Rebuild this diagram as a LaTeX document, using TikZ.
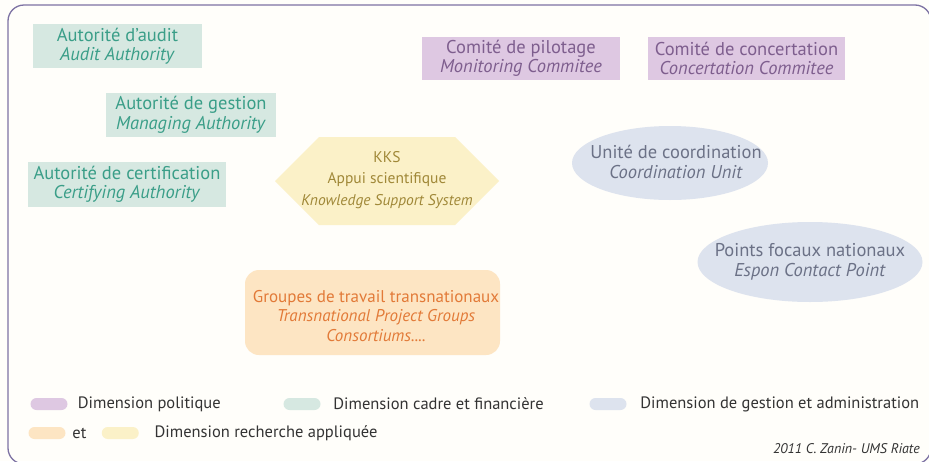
\documentclass[tikz,border=0pt]{standalone}
\usepackage{fontspec}
\setmainfont{PT Sans}
\usetikzlibrary{shapes.geometric,positioning}

\definecolor{cadretext}{HTML}{3A9E88}
\definecolor{cadrefill}{HTML}{D6E8E1}
\definecolor{politext}{HTML}{7E5E8E}
\definecolor{polifill}{HTML}{DEC8E2}
\definecolor{gesttext}{HTML}{6B7186}
\definecolor{gestfill}{HTML}{DDE3EE}
\definecolor{kkstext}{HTML}{A08838}
\definecolor{kksfill}{HTML}{FBF1C8}
\definecolor{grptext}{HTML}{E27A38}
\definecolor{grpfill}{HTML}{FDE5C3}
\definecolor{framecol}{HTML}{7D72A3}
\definecolor{bgcol}{HTML}{FFFEFA}

\tikzset{
  box/.style={inner sep=0, align=center, font=\fontsize{18.5}{19.5}\selectfont},
  cadre/.style={box, fill=cadrefill, text=cadretext},
  poli/.style={box, fill=polifill, text=politext},
  gestshape/.style={ellipse, fill=gestfill, inner sep=0},
  gest/.style={box, text=gesttext},
  pill/.style={rounded corners=6, minimum width=37, minimum height=12, inner sep=0},
  legtext/.style={anchor=west, inner sep=0, text=black!80, font=\fontsize{16.5}{18}\selectfont},
}

\begin{document}
\begin{tikzpicture}[x=1pt, y=-1pt]
		\useasboundingbox (0,0) rectangle (929,461);
		\clip (0,0) rectangle (929,461);
		\fill[bgcol] (0,0) rectangle (929,461);
		\draw[framecol, line width=1.3, rounded corners=16] (8,5) rectangle (931,464);

		% cadre et financiere
		\node[cadre, minimum width=169, minimum height=44] (audit) at (117.5,46)
			{Autorité d’audit\\\textit{Audit Authority}};
		\node[cadre, minimum width=170, minimum height=44] (gestion) at (191,115)
			{Autorité de gestion\\\textit{Managing Authority}};
		\node[cadre, minimum width=198, minimum height=45] (certif) at (127,184.5)
			{Autorité de certification\\\textit{Certifying Authority}};

		% politique
		\node[poli, minimum width=198, minimum height=43] (pilotage) at (521,58.5)
			{Comité de pilotage\\\textit{Monitoring Commitee}};
		\node[poli, minimum width=197, minimum height=43] (concert) at (746.5,58.5)
			{Comité de concertation\\\textit{Concertation Commitee}};

		% recherche
		\fill[kksfill] (275,181) -- (319,137) -- (455,137) -- (499,181) -- (455,225) -- (319,225) -- cycle;
		\node[box, text=kkstext, font=\fontsize{15.5}{21.5}\selectfont] (kks) at (387,180)
			{KKS\\Appui scientifique\\\textit{Knowledge Support System}};
		\node[box, fill=grpfill, text=grptext, rounded corners=14, minimum width=255, minimum height=85] (groupes) at (372.5,312.5) {};
		\node[box, text=grptext, font=\fontsize{17}{19.5}\selectfont] (groupestxt) at (376,316)
			{Groupes de travail transnationaux\\\textit{Transnational Project Groups}\\\textit{Consortiums....}};

		% gestion et administration
		\node[gestshape, minimum width=196, minimum height=74] (coord) at (670,163) {};
		\node[gest] (coordtxt) at (676,162) {Unité de coordination\\\textit{Coordination Unit}};
		\node[gestshape, minimum width=225, minimum height=80] (points) at (810,262) {};
		\node[gest] (pointstxt) at (810,262) {Points focaux nationaux\\\textit{Espon Contact Point}};

		% legende
		\node[pill, fill=polifill] (lpoli) at (49,404) {};
		\node[legtext, right=10 of lpoli] (tpoli) {Dimension politique};
		\node[pill, fill=cadrefill] (lcadre) at (302,404) {};
		\node[legtext, right=12.5 of lcadre] (tcadre) {Dimension cadre et financière};
		\node[pill, fill=gestfill] (lgest) at (608,404) {};
		\node[legtext, right=13.5 of lgest] (tgest) {Dimension de gestion et administration};
		\node[pill, fill=grpfill] (lgrp) at (47,433) {};
		\node[legtext, right=6.5 of lgrp] (tet) {et};
		\node[pill, fill=kksfill, right=15 of tet] (lkks) {};
		\node[legtext, right=15.5 of lkks] (tkks) {Dimension recherche appliquée};

		\node[anchor=east, inner sep=0, text=black!80, font=\fontsize{14}{15}\selectfont\itshape] (credit) at (920,449)
			{2011 C. Zanin- UMS Riate};
	\end{tikzpicture}
\end{document}
